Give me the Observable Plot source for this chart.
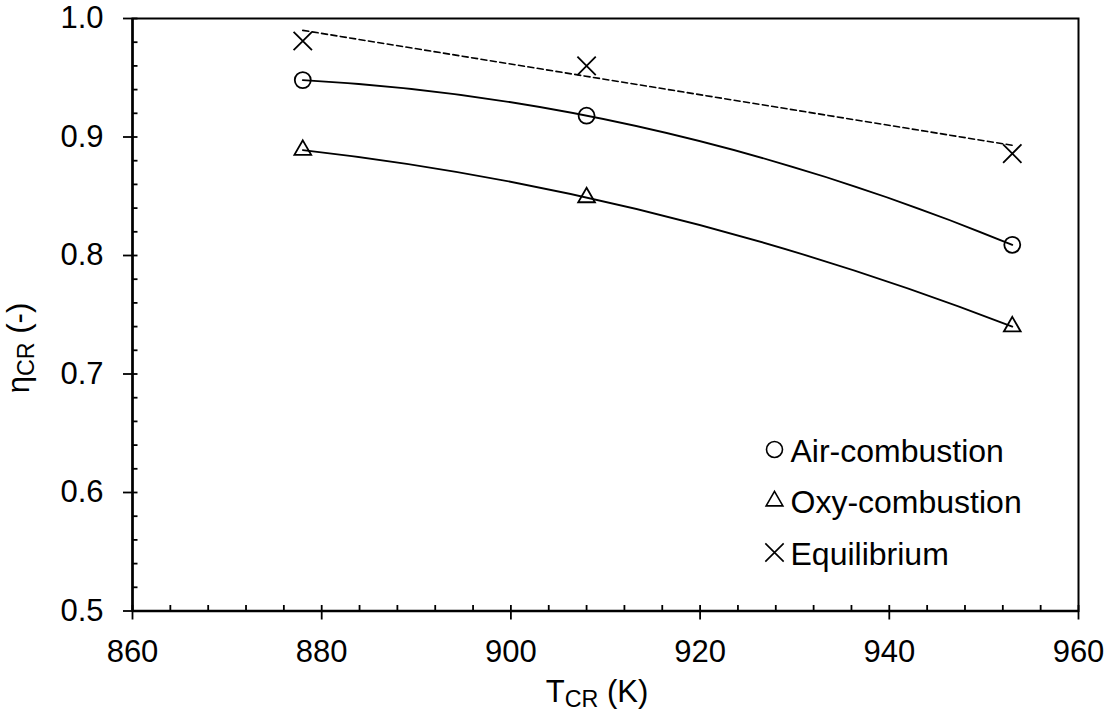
<!DOCTYPE html>
<html>
<head>
<meta charset="utf-8">
<script src="https://cdn.jsdelivr.net/npm/d3@7"></script>
<script src="https://cdn.jsdelivr.net/npm/@observablehq/plot@0.6"></script>
<style>
  html, body { margin: 0; padding: 0; background: #fff; }
  #chart { width: 1111px; height: 713px; }
</style>
</head>
<body>
<div id="chart"></div>
<script>
// ---- data ----
const temperatures = [878, 908, 953];          // T_CR (K)
const airCombustion = [0.948, 0.918, 0.809];   // eta_CR
const oxyCombustion = [0.889, 0.849, 0.740];
const equilibrium = [0.981, 0.960, 0.886];
const equilibriumTrendT = [878, 953];           // dashed linear trend line ends
const equilibriumTrendEta = [0.990, 0.893];
const seriesNames = ["Air-combustion", "Oxy-combustion", "Equilibrium"];
const seriesSymbols = ["circle", "triangle2", "times"];
const xTicks = [860, 880, 900, 920, 940, 960];
const xMinorTicks = [860, 864, 868, 872, 876, 880, 884, 888, 892, 896, 900, 904, 908, 912, 916, 920, 924, 928, 932, 936, 940, 944, 948, 952, 956, 960];
const yTicks = [0.5, 0.6, 0.7, 0.8, 0.9, 1.0];
const yMinorTicks = [0.5, 0.52, 0.54, 0.56, 0.58, 0.6, 0.62, 0.64, 0.66, 0.68, 0.7, 0.72, 0.74, 0.76, 0.78, 0.8, 0.82, 0.84, 0.86, 0.88, 0.9, 0.92, 0.94, 0.96, 0.98, 1.0];

// ---- tables built from the arrays ----
const mk = (vals) => temperatures.map((t, i) => ({T: t, eta: vals[i]}));
const airRows = mk(airCombustion);
const oxyRows = mk(oxyCombustion);
const eqRows = mk(equilibrium);
const eqTrendRows = equilibriumTrendT.map((t, i) => ({T: t, eta: equilibriumTrendEta[i]}));

// Custom curve: 2nd-order polynomial trendline (least squares) drawn as one quadratic Bezier
function solve3(A, b) {
  const det = (m) => m[0][0]*(m[1][1]*m[2][2]-m[1][2]*m[2][1]) - m[0][1]*(m[1][0]*m[2][2]-m[1][2]*m[2][0]) + m[0][2]*(m[1][0]*m[2][1]-m[1][1]*m[2][0]);
  const D = det(A);
  return [0, 1, 2].map(k => det(A.map((row, i) => row.map((v, j) => j === k ? b[i] : v))) / D);
}
function polyTrend2(context) {
  let pts = [];
  return {
    areaStart() {}, areaEnd() {},
    lineStart() { pts = []; },
    point(x, y) { pts.push([+x, +y]); },
    lineEnd() {
      if (pts.length < 3) {
        pts.forEach(([x, y], i) => i ? context.lineTo(x, y) : context.moveTo(x, y));
        return;
      }
      const mx = d3.mean(pts, p => p[0]);
      const S = [[0,0,0],[0,0,0],[0,0,0]], B = [0,0,0];
      for (const [x, y] of pts) {
        const u = x - mx, v = [1, u, u*u];
        for (let i = 0; i < 3; i++) { B[i] += v[i]*y; for (let j = 0; j < 3; j++) S[i][j] += v[i]*v[j]; }
      }
      const c = solve3(S, B);
      const f = u => c[0] + c[1]*u + c[2]*u*u;
      const df = u => c[1] + 2*c[2]*u;
      const x0 = d3.min(pts, p => p[0]), x1 = d3.max(pts, p => p[0]);
      const u0 = x0 - mx, u1 = x1 - mx;
      context.moveTo(x0, f(u0));
      context.quadraticCurveTo((x0 + x1) / 2, f(u0) + df(u0) * (x1 - x0) / 2, x1, f(u1));
    }
  };
}

const W = 1111, H = 713;
const mL = 132, mR = 33, mT = 18, mB = 102.5;
const FONT = "'Liberation Sans', Arial, Helvetica, sans-serif";
const ink = "#000";
const markerR = [8, 8, 8.4];

const legendMarks = seriesNames.flatMap((name, i) => [
  Plot.dot([name], {frameAnchor: "top-left", dx: 774 - mL, dy: 449 - mT + i * 51.5,
    symbol: seriesSymbols[i], r: markerR[i], stroke: ink, fill: "none", strokeWidth: 1.6}),
  Plot.text([name], {frameAnchor: "top-left", dx: 790 - mL, dy: 451 - mT + i * 51.5,
    text: d => d, textAnchor: "start", lineAnchor: "middle", fontSize: 32, fill: ink})
]);

const plot = Plot.plot({
  width: W, height: H,
  marginLeft: mL, marginRight: mR, marginTop: mT, marginBottom: mB,
  style: {fontFamily: FONT, fontSize: "31px", background: "#fff", color: ink, overflow: "visible"},
  x: {domain: [860, 960], label: null},
  y: {domain: [0.5, 1.0], label: null},
  marks: [
    Plot.frame({stroke: ink, strokeWidth: 2}),
    Plot.axisX(xTicks, {tickSize: 9, tickPadding: 20, tickFormat: d3.format("d"), fontSize: 31, strokeWidth: 1.8, label: null}),
    Plot.axisX(xMinorTicks, {tickSize: -5.5, fill: "none", strokeWidth: 1.8, label: null}),
    Plot.axisY(yTicks, {tickSize: 9, tickPadding: 20, tickFormat: d3.format(".1f"), fontSize: 31, strokeWidth: 1.8, label: null}),
    Plot.axisY(yMinorTicks, {tickSize: -5.5, fill: "none", strokeWidth: 1.8, label: null}),
    Plot.ruleX([860], {stroke: ink, strokeWidth: 2.5}),
    Plot.ruleY([0.5], {stroke: ink, strokeWidth: 2.5}),
    Plot.line(eqTrendRows, {x: "T", y: "eta", stroke: ink, strokeWidth: 1.6, strokeDasharray: "6,3.5"}),
    Plot.line(airRows, {x: "T", y: "eta", curve: polyTrend2, stroke: ink, strokeWidth: 1.8}),
    Plot.line(oxyRows, {x: "T", y: "eta", curve: polyTrend2, stroke: ink, strokeWidth: 1.8}),
    Plot.dot(airRows, {x: "T", y: "eta", symbol: seriesSymbols[0], r: markerR[0], stroke: ink, fill: "none", strokeWidth: 1.8}),
    Plot.dot(oxyRows, {x: "T", y: "eta", symbol: seriesSymbols[1], r: markerR[1], stroke: ink, fill: "none", strokeWidth: 1.8}),
    Plot.dot(eqRows, {x: "T", y: "eta", symbol: seriesSymbols[2], r: markerR[2], stroke: ink, fill: "none", strokeWidth: 1.8}),
    ...legendMarks
  ]
});

document.getElementById("chart").appendChild(plot);

// Axis titles with subscripts (real SVG text)
const svg = d3.select(plot);
const xt = svg.append("text")
  .attr("x", (mL + W - mR) / 2 - 8).attr("y", 702)
  .attr("text-anchor", "middle").attr("font-size", 31).attr("font-family", FONT).attr("fill", ink);
xt.append("tspan").text("T");
xt.append("tspan").attr("font-size", "0.75em").attr("dy", 5).text("CR");
xt.append("tspan").attr("dy", -5).text(" (K)");

const yt = svg.append("text")
  .attr("transform", `translate(29,${348}) rotate(-90)`)
  .attr("text-anchor", "middle").attr("font-size", 31).attr("font-family", FONT).attr("fill", ink);
yt.append("tspan").text("η");
yt.append("tspan").attr("font-size", "0.75em").attr("dy", 5).text("CR");
yt.append("tspan").attr("dy", -5).text(" (-)");
</script>
</body>
</html>
